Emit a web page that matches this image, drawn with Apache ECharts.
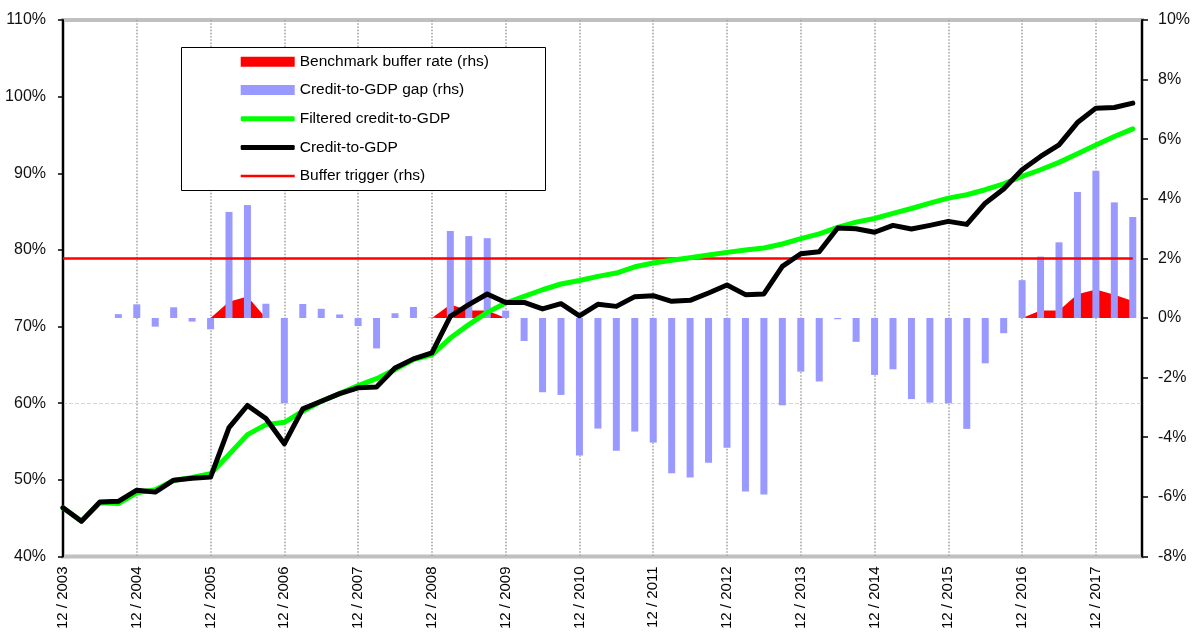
<!DOCTYPE html>
<html>
<head>
<meta charset="utf-8">
<script src="https://cdn.jsdelivr.net/npm/echarts@6/dist/echarts.min.js"></script>
<style>
html,body{margin:0;padding:0;background:#fff;}
#chart{width:1201px;height:632px;}
</style>
</head>
<body>
<div id="chart"></div>
<script>
// Quarter-end dates (x categories)
const quarters = [
 '12/2003','03/2004','06/2004','09/2004','12/2004','03/2005','06/2005','09/2005',
 '12/2005','03/2006','06/2006','09/2006','12/2006','03/2007','06/2007','09/2007',
 '12/2007','03/2008','06/2008','09/2008','12/2008','03/2009','06/2009','09/2009',
 '12/2009','03/2010','06/2010','09/2010','12/2010','03/2011','06/2011','09/2011',
 '12/2011','03/2012','06/2012','09/2012','12/2012','03/2013','06/2013','09/2013',
 '12/2013','03/2014','06/2014','09/2014','12/2014','03/2015','06/2015','09/2015',
 '12/2015','03/2016','06/2016','09/2016','12/2016','03/2017','06/2017','09/2017',
 '12/2017','03/2018','06/2018'
];
// x tick labels (every 4th quarter)
const yearTicks = ['12 / 2003','12 / 2004','12 / 2005','12 / 2006','12 / 2007','12 / 2008','12 / 2009',
 '12 / 2010','12 / 2011','12 / 2012','12 / 2013','12 / 2014','12 / 2015','12 / 2016','12 / 2017'];

// Credit-to-GDP (lhs, %)
const creditToGDP = [
 46.35,44.6,47.1,47.2,48.65,48.4,49.95,50.2,
 50.35,56.8,59.7,58.0,54.7,59.25,60.25,61.25,
 62.0,62.1,64.6,65.78,66.56,71.33,72.85,74.25,
 73.15,73.15,72.3,72.98,71.4,72.9,72.63,73.9,
 74.03,73.29,73.42,74.38,75.42,74.16,74.25,77.85,
 79.5,79.77,82.85,82.76,82.3,83.2,82.72,83.2,
 83.72,83.33,86.1,87.94,90.46,92.2,93.7,96.62,
 98.5,98.58,99.15
];
// Filtered credit-to-GDP (lhs, %)
const filteredCredit = [
 46.35,44.6,47.0,46.9,48.3,48.7,49.9,50.3,
 50.8,53.3,55.9,57.2,57.5,58.95,60.25,61.25,
 62.3,63.2,64.4,65.7,66.3,68.5,70.25,71.85,
 73.07,73.94,74.8,75.55,76.0,76.55,76.98,77.8,
 78.3,78.64,78.98,79.33,79.68,79.98,80.24,80.77,
 81.46,82.1,82.93,83.63,84.1,84.76,85.4,86.1,
 86.76,87.2,87.85,88.63,89.6,90.46,91.42,92.55,
 93.7,94.8,95.8
];
// Credit-to-GDP gap (rhs, %)
const creditGap = [
 null,null,null,0.13,0.46,-0.29,0.36,-0.12,
 -0.38,3.56,3.79,0.48,-2.86,0.47,0.31,0.12,
 -0.27,-1.02,0.16,0.37,0.02,2.92,2.75,2.68,
 0.25,-0.77,-2.49,-2.58,-4.61,-3.71,-4.45,-3.81,
 -4.18,-5.21,-5.35,-4.86,-4.35,-5.82,-5.92,-2.93,
 -1.80,-2.13,-0.04,-0.80,-1.91,-1.72,-2.72,-2.84,
 -2.86,-3.72,-1.52,-0.51,1.27,2.06,2.54,4.23,
 4.94,3.88,3.39
];
// Benchmark buffer rate (rhs, %)
const benchmarkBuffer = [
 null,null,null,null,null,null,null,null,
 0,0.55,0.72,0,null,null,null,null,
 null,null,null,null,0,0.45,0.25,0.25,
 0,null,null,null,null,null,null,null,
 null,null,null,null,null,null,null,null,
 null,null,null,null,null,null,null,null,
 null,null,null,null,0,0.25,0.25,0.8,
 0.96,0.78,0.57
];
// Buffer trigger (rhs, %)
const bufferTrigger = 2;

const leftTicks = {min: 40, max: 110, interval: 10};
const rightTicks = {min: -8, max: 10, interval: 2};

const FONT = 'Liberation Sans, Arial, sans-serif';

// Use a narrow face for axis labels if one is installed
function hasFont(name) {
  const c = document.createElement('canvas').getContext('2d');
  c.font = '40px monospace';
  const base = c.measureText('1234567890% / abc').width;
  c.font = '40px "' + name + '", monospace';
  return c.measureText('1234567890% / abc').width !== base;
}
const narrowOK = hasFont('Liberation Sans Narrow');
const AXFONT = narrowOK ? '"Liberation Sans Narrow", Liberation Sans, sans-serif' : FONT;
const AXSIZE = narrowOK ? 18 : 16;
const XSIZE = narrowOK ? 18 : 15;

const pair = arr => arr.map((v, i) => [i, v]);
const lastIdx = quarters.length - 1;

const chart = echarts.init(document.getElementById('chart'), null, {renderer: 'canvas'});

function legendItem(name, top, h, icon) {
  return {
    show: true, orient: 'vertical', left: 240.7, top: top, padding: 0,
    itemWidth: 54, itemHeight: h, itemGap: 0, selectedMode: false,
    data: [{name: name, icon: icon}],
    itemStyle: {borderWidth: 0},
    textStyle: {fontFamily: FONT, fontSize: 15.5, color: '#000', lineHeight: 20}
  };
}

const option = {
  backgroundColor: '#fff',
  animation: false,
  textStyle: {fontFamily: FONT},
  grid: {left: 63, right: 59, top: 20, bottom: 75, show: true, borderColor: '#c0c0c0', borderWidth: 4, backgroundColor: 'transparent'},
  graphic: [{
    type: 'rect', z: 3, silent: true,
    shape: {x: 181.5, y: 47.5, width: 364, height: 143},
    style: {fill: '#fff', stroke: '#000', lineWidth: 1}
  }],
  legend: [
    legendItem('Benchmark buffer rate (rhs)', 51.7, 10, 'rect'),
    legendItem('Credit-to-GDP gap (rhs)', 80, 10, 'rect'),
    legendItem('Filtered credit-to-GDP', 108.8, 5, 'roundRect'),
    legendItem('Credit-to-GDP', 137.5, 5, 'roundRect'),
    legendItem('Buffer trigger (rhs)', 166, 2.5, 'rect')
  ],
  xAxis: {
    type: 'value', min: 0, max: lastIdx + 0.5, interval: 4,
    axisLine: {show: false}, axisTick: {show: false},
    axisLabel: {
      rotate: 90, margin: 10, fontSize: XSIZE, color: '#000', fontFamily: AXFONT,
      showMaxLabel: false,
      formatter: v => (v % 4 === 0 && yearTicks[v / 4] !== undefined) ? yearTicks[v / 4] : ''
    },
    splitLine: {show: true, showMinLine: false, showMaxLine: false, lineStyle: {color: '#a8a8a8', type: 'dotted', width: 1.6}}
  },
  yAxis: [{
    type: 'value', position: 'left', min: leftTicks.min, max: leftTicks.max, interval: leftTicks.interval,
    axisLine: {show: true, lineStyle: {color: '#000', width: 2}},
    axisTick: {show: true, length: 5, lineStyle: {color: '#000', width: 1.5}},
    axisLabel: {formatter: '{value}%', fontSize: AXSIZE, color: '#111', margin: 17, fontFamily: AXFONT},
    splitLine: {show: true, lineStyle: {color: ['transparent','transparent','#d6d6d6','transparent','transparent','transparent','transparent','transparent'], type: 'dashed', width: 1}}
  }, {
    type: 'value', position: 'right', min: rightTicks.min, max: rightTicks.max, interval: rightTicks.interval,
    axisLine: {show: true, lineStyle: {color: '#000', width: 2}},
    axisTick: {show: true, length: 6, lineStyle: {color: '#000', width: 1.5}},
    axisLabel: {formatter: '{value}%', fontSize: AXSIZE, color: '#111', margin: 16, fontFamily: AXFONT},
    splitLine: {show: false}
  }],
  series: [{
    name: 'Benchmark buffer rate (rhs)', type: 'line', yAxisIndex: 1, z: 1,
    data: pair(benchmarkBuffer), symbol: 'none', connectNulls: false, color: '#ff0000',
    lineStyle: {width: 0}, areaStyle: {color: '#ff0000', opacity: 1}
  }, {
    name: 'Credit-to-GDP gap (rhs)', type: 'bar', yAxisIndex: 1, z: 2,
    data: pair(creditGap), barWidth: 7, color: '#9999ff', itemStyle: {color: '#9999ff'}
  }, {
    name: 'Buffer trigger (rhs)', type: 'line', yAxisIndex: 1, z: 3,
    data: [[0, bufferTrigger], [lastIdx, bufferTrigger]], symbol: 'none', color: '#ff0000',
    lineStyle: {color: '#ff0000', width: 2.5}
  }, {
    name: 'Filtered credit-to-GDP', type: 'line', yAxisIndex: 0, z: 4,
    data: pair(filteredCredit), symbol: 'none', color: '#00ff00',
    lineStyle: {color: '#00ff00', width: 5, join: 'round', cap: 'round'}
  }, {
    name: 'Credit-to-GDP', type: 'line', yAxisIndex: 0, z: 5,
    data: pair(creditToGDP), symbol: 'none', color: '#000000',
    lineStyle: {color: '#000000', width: 5, join: 'round', cap: 'round'}
  }]
};
chart.setOption(option);
</script>
</body>
</html>
